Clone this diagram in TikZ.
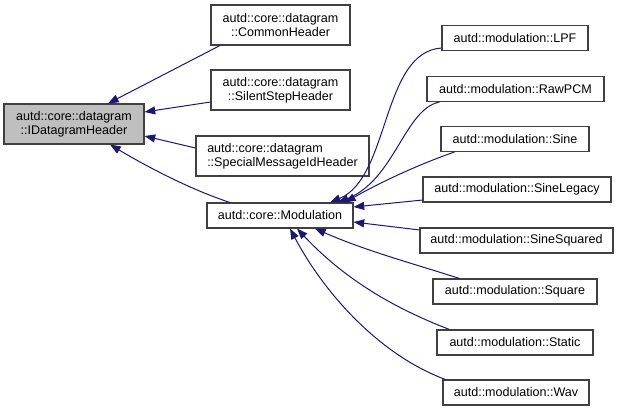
\documentclass[tikz,border=0pt]{standalone}
\usepackage{fontspec}
\setmainfont{Liberation Sans}
\usetikzlibrary{arrows.meta}

\definecolor{edgeblue}{HTML}{191970}

\tikzset{
  cls/.style={draw=black!75, line width=0.8pt, inner sep=0pt, minimum height=18.75pt,
    font=\fontsize{9.4}{10.5}\selectfont},
  twoline/.style={cls, minimum height=30pt, align=center},
  inh/.style={draw=edgeblue, line width=0.75pt, -{Triangle[length=8pt,width=6pt]}}
}

\begin{document}
\begin{tikzpicture}[x=0.75pt, y=-0.75pt]

        \useasboundingbox (0,0) rectangle (619,411);

        %Base class
        \node[twoline, minimum width=105pt, fill=black!25] (idh) at (74,124) {autd::core::datagram\\::IDatagramHeader};

        %Headers
        \node[twoline, minimum width=104.25pt] (common) at (280.5,25) {autd::core::datagram\\::CommonHeader};
        \node[twoline, minimum width=104.25pt] (silent) at (280.5,90) {autd::core::datagram\\::SilentStepHeader};
        \node[twoline, minimum width=129.75pt, align=left] (special) at (282.5,156) {autd::core::datagram\\::SpecialMessageIdHeader};

        %Modulation
        \node[cls, minimum width=109.5pt] (mod) at (280,215.5) {autd::core::Modulation};

        %Modulation classes
        \node[cls, minimum width=109.5pt] (lpf) at (515,38) {autd::modulation::LPF};
        \node[cls, minimum width=132.75pt] (rawpcm) at (515.5,89) {autd::modulation::RawPCM};
        \node[cls, minimum width=111pt] (sine) at (515,139) {autd::modulation::Sine};
        \node[cls, minimum width=141pt] (sinelegacy) at (517,189.5) {autd::modulation::SineLegacy};
        \node[cls, minimum width=144.75pt] (sinesquared) at (516.5,240.5) {autd::modulation::SineSquared};
        \node[cls, minimum width=123pt] (square) at (515,291.5) {autd::modulation::Square};
        \node[cls, minimum width=117pt] (static) at (515,342.5) {autd::modulation::Static};
        \node[cls, minimum width=109.5pt] (wav) at (516,392.5) {autd::modulation::Wav};

        %Lines to IDatagramHeader
        \draw[inh] ([xshift=-45.4pt]common.south) -- ([xshift=25.5pt]idh.north);
        \draw[inh] ([yshift=-9pt]silent.west) -- ([yshift=9pt]idh.east);
        \draw[inh] ([yshift=6pt]special.west) -- ([yshift=-9pt]idh.east);
        \draw[inh] ([xshift=-37.5pt]mod.north) .. controls +(-40,-13) and +(35,21) .. ([xshift=27pt]idh.south);

        %Lines to Modulation, top
        \draw[inh] ([yshift=-7.5pt]lpf.west) .. controls +(-60,4) and +(60,-25) .. ([xshift=37.5pt]mod.north);
        \draw[inh] ([xshift=9.75pt]rawpcm.south west) .. controls +(-35,7) and +(57,-23) .. ([xshift=43.5pt]mod.north);
        \draw[inh] ([xshift=10.5pt]sine.south west) .. controls +(-35,12) and +(35,-20) .. ([xshift=48.75pt]mod.north);

        %Lines to Modulation, right
        \draw[inh] ([yshift=-7.9pt]sinelegacy.west) -- ([yshift=6.4pt]mod.east);
        \draw[inh] ([yshift=7.9pt]sinesquared.west) -- ([yshift=-4.9pt]mod.east);

        %Lines to Modulation, bottom
        \draw[inh] ([xshift=20.25pt]square.north west) .. controls +(-50,-16) and +(50,22) .. ([xshift=26.25pt]mod.south);
        \draw[inh] ([xshift=9.75pt]static.north west) .. controls +(-60,-23) and +(45,48) .. ([xshift=12.75pt]mod.south);
        \draw[inh] ([xshift=2.25pt]wav.north west) .. controls +(-65,-24) and +(35,66) .. ([xshift=7.5pt]mod.south);

\end{tikzpicture}
\end{document}
